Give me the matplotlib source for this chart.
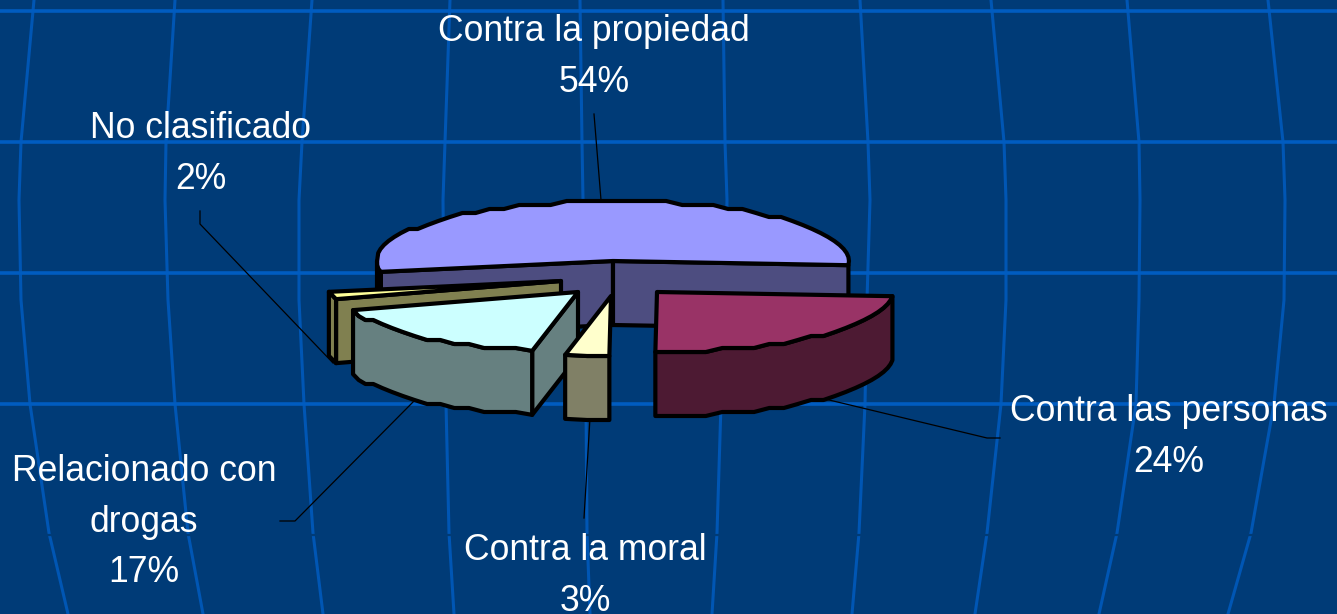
import numpy as np
import matplotlib
matplotlib.use("Agg")
import matplotlib.pyplot as plt

categories = ["Contra las personas", "Contra la moral", "Relacionado con\ndrogas",
              "No clasificado", "Contra la propiedad"]
values = [24, 3, 17, 2, 54]
top_colors = ["#993366", "#ffffcc", "#ccffff", "#ffff99", "#9999ff"]
side_colors = ["#4d1a33", "#808066", "#668080", "#808050", "#4d4d80"]

# pie layout in pixels
center = (613, 261)
rx, ry = 236, 60
depth = 64
start_angle = -4
explode = [(44, 31), (-2, 35), (-35, 31), (-52, 20), (0, 0)]
draw_order = [4, 3, 2, 1, 0]

label_pos = [(1169, 437), (585, 576), (144, 522), (201, 154), (594, 57)]
leaders = [
    [(1000, 438), (987, 438), (825, 399)],
    [(584, 518), (590, 418)],
    [(280, 521), (295, 521), (417, 398)],
    [(200, 211), (200, 224), (333, 363)],
    [(594, 114), (601, 200)],
]

# background decoration
grid_y = [11, 142, 273, 404]
grid_curve_y = [0, 142, 200, 300, 404, 533, 614]
grid_curve_x = [
    [34, 21, 19, 21, 30, 49, 68],
    [175, 166, 165, 168, 175, 188, 203],
    [312, 302, 299, 299, 304, 313, 323],
    [450, 445, 443, 444, 446, 449, 454],
    [580, 582, 583, 585, 586, 587, 590],
    [723, 725, 727, 725, 721, 717, 712],
    [860, 868, 870, 867, 865, 859, 852],
    [991, 1004, 1006, 1006, 1001, 987, 975],
    [1127, 1139, 1140, 1139, 1136, 1117, 1099],
    [1268, 1283, 1285, 1284, 1274, 1251, 1228],
]

BG = "#003b77"
LINE = "#0056b4"


def arc(t1, t2, step=4.0):
    # rim of the pie from t1 to t2 (degrees), y snapped so the rim looks faceted like the original
    n = max(int(abs(t1 - t2) / step), 1) + 1
    ts = np.linspace(t1, t2, n)
    xs = rx * np.cos(np.radians(ts))
    ys = -ry * np.sin(np.radians(ts))
    ys[1:-1] = np.round(ys[1:-1] / 4.0) * 4.0
    return np.column_stack([xs, ys])


def rim_point(t):
    return np.array([rx * np.cos(np.radians(t)), -ry * np.sin(np.radians(t))])


def poly(ax, pts, color, z):
    ax.fill(pts[:, 0], pts[:, 1], facecolor=color, edgecolor="black", linewidth=3.0,
            joinstyle="round", zorder=z)


fig = plt.figure(figsize=(13.37, 6.14), dpi=100, facecolor=BG)
ax = fig.add_axes([0, 0, 1, 1])
ax.set_xlim(0, 1337)
ax.set_ylim(614, 0)
ax.axis("off")

for xs in grid_curve_x:
    ax.plot(xs, grid_curve_y, color=LINE, linewidth=2.2, zorder=1)
for y in grid_y:
    ax.axhline(y, color="#005cc0", linewidth=2.6, zorder=1)
ax.axhline(535, color=BG, linewidth=1.6, zorder=1)

for pts in leaders:
    ax.plot([p[0] for p in pts], [p[1] for p in pts], color="black", linewidth=0.9, zorder=2)

# wedge angles run clockwise from start_angle
ends = start_angle - np.cumsum(values) * 3.6
starts = np.concatenate([[start_angle], ends[:-1]])

for z, i in enumerate(draw_order):
    z = 3 + z
    t1, t2 = starts[i], ends[i]
    apex = np.array([center[0] + explode[i][0], center[1] + explode[i][1]])
    down = np.array([0, depth])

    # cut faces that look towards the viewer
    if np.cos(np.radians(t1)) < -0.02:
        p = apex + rim_point(t1)
        poly(ax, np.array([apex, p, p + down, apex + down]), side_colors[i], z)
    if -np.cos(np.radians(t2)) < -0.02:
        p = apex + rim_point(t2)
        poly(ax, np.array([apex, p, p + down, apex + down]), side_colors[i], z)

    # rim, only the front half shows
    lo, hi = max(t2, -180), min(t1, 0)
    if hi > lo:
        rim = apex + arc(hi, lo)
        poly(ax, np.vstack([rim, (rim + down)[::-1]]), side_colors[i], z)

    poly(ax, np.vstack([apex, apex + arc(t1, t2)]), top_colors[i], z)

for cat, val, pos in zip(categories, values, label_pos):
    ax.text(pos[0], pos[1], f"{cat}\n{val}%", color="white", ha="center", va="center",
            fontsize=25.6, family="Liberation Sans", linespacing=1.57, zorder=20)

fig.savefig("out.png", dpi=100, facecolor=BG)
